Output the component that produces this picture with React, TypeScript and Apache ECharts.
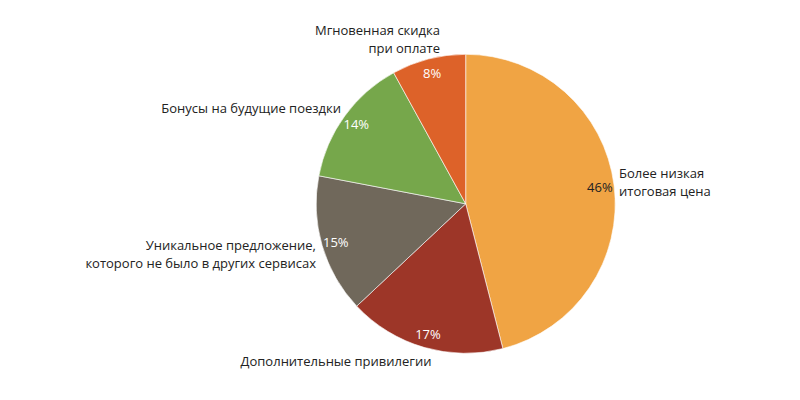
import React, { useRef, useEffect } from 'react';
import * as echarts from 'echarts';

// Slices, clockwise from 12 o'clock
const categories = [
    'Более низкая\nитоговая цена',
    'Дополнительные привилегии',
    'Уникальное предложение,\nкоторого не было в других сервисах',
    'Бонусы на будущие поездки',
    'Мгновенная скидка\nпри оплате',
];
const shares = [46, 17, 15, 14, 8];

const sliceColors = ['#F0A444', '#9D3628', '#70685B', '#76A74B', '#DD6229'];
const pctColors = ['#222222', '#ffffff', '#ffffff', '#ffffff', '#ffffff'];

// where Excel put the name labels: [x, y, align]
const namePos: [number, number, string][] = [
    [619, 182, 'left'],
    [336, 361, 'center'],
    [316, 254, 'right'],
    [341, 108, 'right'],
    [440, 39, 'right'],
];

const FONT = '"Open Sans", "Noto Sans", sans-serif';

const App: React.FC = () => {
    const chartRef = useRef<HTMLDivElement>(null);

    useEffect(() => {
        if (!chartRef.current) return;
        const chart = echarts.init(chartRef.current, null, { renderer: 'svg' });

        const option: echarts.EChartsOption = {
            animation: false,
            backgroundColor: '#ffffff',
            series: [
                {
                    type: 'pie',
                    center: [465.7, 203.8],
                    radius: [0, 149.5],
                    startAngle: 90,
                    clockwise: true,
                    silent: true,
                    data: categories.map((name, i) => ({
                        name,
                        value: shares[i],
                        itemStyle: { color: sliceColors[i] },
                    })),
                    itemStyle: { borderColor: '#ffffff', borderWidth: 0.6 },
                    label: {
                        show: true,
                        position: 'outside',
                        formatter: '{b}',
                        color: '#222222',
                        fontFamily: FONT,
                        fontSize: 13,
                        lineHeight: 18,
                    },
                    labelLine: { show: false },
                    labelLayout: (params: any) => {
                        const p = namePos[params.dataIndex];
                        return { x: p[0], y: p[1], align: p[2], verticalAlign: 'middle' } as any;
                    },
                },
                {
                    type: 'pie',
                    center: [465.7, 203.8],
                    radius: [115, 149.5],
                    startAngle: 90,
                    clockwise: true,
                    silent: true,
                    z: 3,
                    data: categories.map((name, i) => ({
                        name,
                        value: shares[i],
                        itemStyle: { color: 'transparent' },
                        label: { color: pctColors[i] },
                    })),
                    label: {
                        show: true,
                        position: 'inside',
                        formatter: '{c}%',
                        fontFamily: FONT,
                        fontSize: 13,
                    },
                    labelLine: { show: false },
                },
            ],
        };
        chart.setOption(option);

        return () => {
            chart.dispose();
        };
    }, []);

    return (
        <div
            ref={chartRef}
            style={{ position: 'absolute', left: 0, top: 0, width: 800, height: 400 }}
        />
    );
};

export default App;
